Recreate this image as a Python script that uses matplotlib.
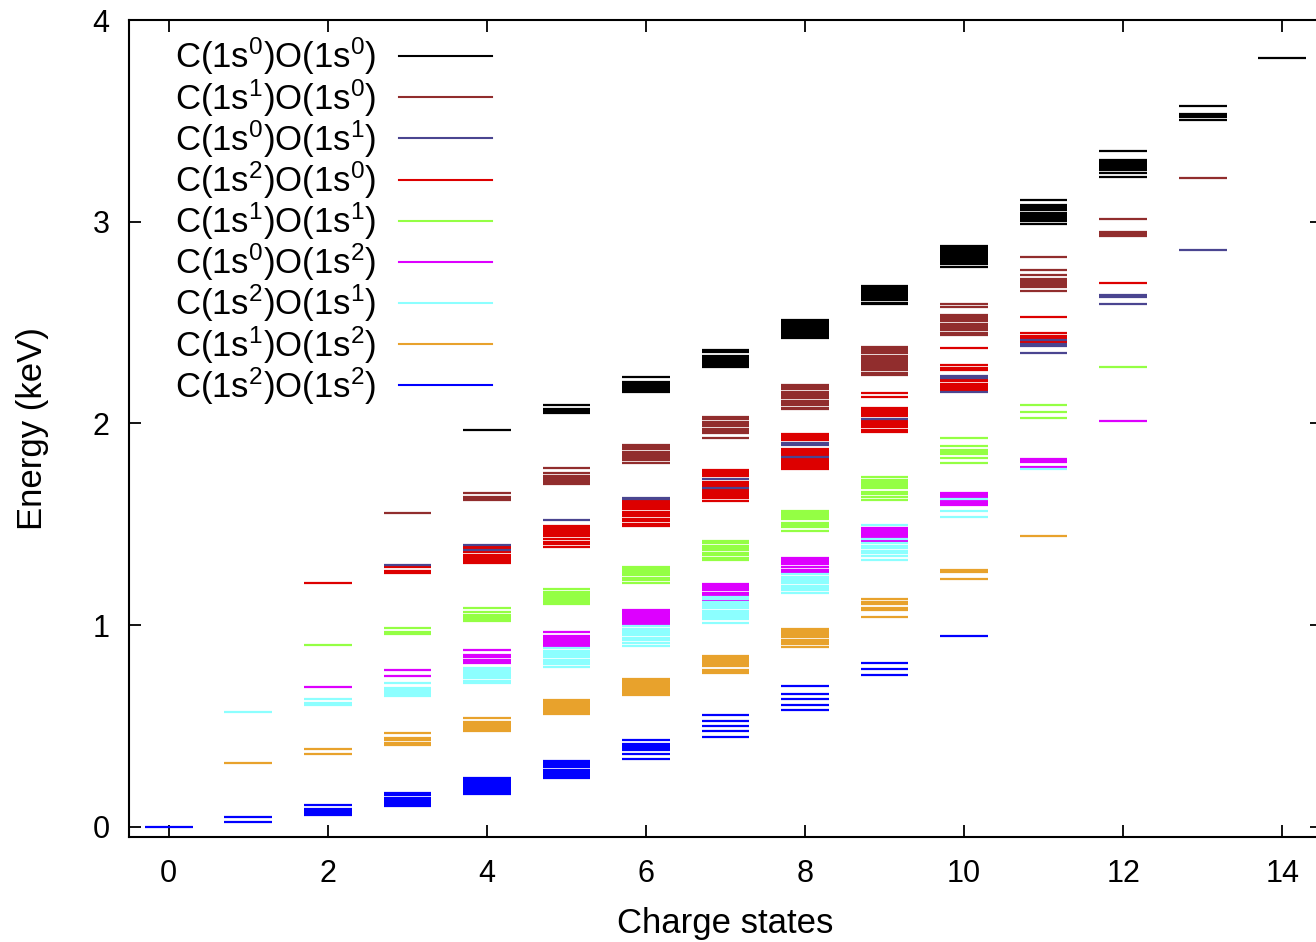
import matplotlib
matplotlib.use("Agg")
import matplotlib.pyplot as plt
from matplotlib.lines import Line2D

plt.rcParams['font.family'] = ['Liberation Sans', 'DejaVu Sans']
plt.rcParams['mathtext.fontset'] = 'custom'
plt.rcParams['mathtext.rm'] = 'Liberation Sans'
plt.rcParams['mathtext.it'] = 'Liberation Sans:italic'
plt.rcParams['mathtext.default'] = 'regular'

# ---- data: energy levels (keV) per charge state for each core-hole configuration ----
labels = [
    "C(1s$^0$)O(1s$^0$)", "C(1s$^1$)O(1s$^0$)", "C(1s$^0$)O(1s$^1$)",
    "C(1s$^2$)O(1s$^0$)", "C(1s$^1$)O(1s$^1$)", "C(1s$^0$)O(1s$^2$)",
    "C(1s$^2$)O(1s$^1$)", "C(1s$^1$)O(1s$^2$)", "C(1s$^2$)O(1s$^2$)",
]
colors = ['#000000', '#912d2d', '#4a4590', '#dd0000', '#94ff44',
          '#dd00ff', '#8cffff', '#e8a22c', '#0000ff']

levels_C0O0 = {
    4: [1.970],
    5: [2.093, 2.073, 2.062, 2.053],
    6: [2.232, 2.205, 2.195, 2.185, 2.175, 2.165, 2.157],
    7: [2.364, 2.352, 2.336, 2.326, 2.316, 2.310, 2.298, 2.288, 2.280],
    8: [2.512, 2.502, 2.492, 2.482, 2.472, 2.462, 2.455, 2.442, 2.432, 2.426],
    9: [2.683, 2.673, 2.663, 2.653, 2.643, 2.633, 2.623, 2.613, 2.598, 2.590],
    10: [2.882, 2.872, 2.862, 2.852, 2.842, 2.832, 2.822, 2.812, 2.802, 2.792, 2.778],
    11: [3.106, 3.085, 3.075, 3.065, 3.058, 3.045, 3.035, 3.025, 3.015, 3.005, 2.990],
    12: [3.353, 3.304, 3.294, 3.284, 3.274, 3.265, 3.255, 3.242, 3.220],
    13: [3.572, 3.535, 3.525, 3.518, 3.502],
    14: [3.810],
}
levels_C1O0 = {
    3: [1.558],
    4: [1.657, 1.636, 1.627, 1.620],
    5: [1.778, 1.753, 1.742, 1.728, 1.718, 1.708, 1.702],
    6: [1.892, 1.882, 1.872, 1.860, 1.850, 1.840, 1.828, 1.818, 1.806],
    7: [2.030, 2.020, 2.008, 1.998, 1.988, 1.975, 1.962, 1.952, 1.930],
    8: [2.190, 2.180, 2.170, 2.158, 2.146, 2.136, 2.126, 2.112, 2.102, 2.090, 2.078, 2.070],
    9: [2.378, 2.368, 2.358, 2.348, 2.334, 2.324, 2.314, 2.304, 2.294, 2.284, 2.274, 2.264, 2.252, 2.240],
    10: [2.591, 2.578, 2.540, 2.530, 2.518, 2.508, 2.495, 2.485, 2.475, 2.462, 2.450, 2.438],
    11: [2.827, 2.760, 2.738, 2.716, 2.706, 2.696, 2.686, 2.676, 2.656],
    12: [3.012, 2.951, 2.940, 2.928],
    13: [3.216],
}
levels_C0O1 = {
    3: [1.300],
    4: [1.399, 1.373],
    5: [1.520],
    6: [1.632, 1.624],
    7: [1.725, 1.680],
    8: [1.903, 1.893, 1.833],
    9: [2.023],
    10: [2.236, 2.226, 2.156],
    11: [2.415, 2.395, 2.385, 2.347],
    12: [2.636, 2.628, 2.592],
    13: [2.861],
}
levels_C2O0 = {
    2: [1.207],
    3: [1.287, 1.270, 1.258],
    4: [1.389, 1.379, 1.362, 1.350, 1.340, 1.328, 1.318, 1.308],
    5: [1.492, 1.482, 1.472, 1.460, 1.450, 1.440, 1.428, 1.414, 1.400, 1.388],
    6: [1.615, 1.605, 1.595, 1.585, 1.575, 1.563, 1.553, 1.540, 1.528, 1.515, 1.500, 1.490],
    7: [1.768, 1.758, 1.748, 1.738, 1.712, 1.702, 1.692, 1.670, 1.660, 1.650, 1.640, 1.628, 1.618],
    8: [1.947, 1.937, 1.927, 1.917, 1.875, 1.865, 1.855, 1.845, 1.822, 1.812, 1.802, 1.792, 1.782, 1.776],
    9: [2.150, 2.132, 2.076, 2.066, 2.056, 2.046, 2.036, 2.012, 2.002, 1.992, 1.982, 1.970, 1.960],
    10: [2.375, 2.288, 2.275, 2.264, 2.218, 2.208, 2.198, 2.188, 2.178, 2.168],
    11: [2.528, 2.446, 2.436, 2.426, 2.405],
    12: [2.697],
}
levels_C1O1 = {
    2: [0.904],
    3: [0.987, 0.965, 0.955],
    4: [1.086, 1.063, 1.052, 1.042, 1.032, 1.020],
    5: [1.180, 1.163, 1.153, 1.143, 1.133, 1.123, 1.113, 1.104],
    6: [1.290, 1.280, 1.270, 1.258, 1.248, 1.232, 1.222, 1.208],
    7: [1.415, 1.405, 1.395, 1.385, 1.372, 1.360, 1.350, 1.335, 1.322],
    8: [1.566, 1.556, 1.546, 1.534, 1.524, 1.508, 1.498, 1.488, 1.465],
    9: [1.736, 1.718, 1.708, 1.698, 1.688, 1.678, 1.660, 1.650, 1.635, 1.620],
    10: [1.927, 1.886, 1.869, 1.859, 1.849, 1.830, 1.803],
    11: [2.093, 2.057, 2.028],
    12: [2.280],
}
levels_C0O2 = {
    2: [0.694],
    3: [0.776, 0.750],
    4: [0.877, 0.851, 0.843, 0.828, 0.818, 0.812],
    5: [0.965, 0.945, 0.935, 0.925, 0.915, 0.905, 0.898],
    6: [1.077, 1.067, 1.057, 1.047, 1.037, 1.027, 1.017, 1.008],
    7: [1.202, 1.192, 1.182, 1.172, 1.162, 1.152, 1.125],
    8: [1.334, 1.324, 1.314, 1.305, 1.286, 1.272, 1.262],
    9: [1.480, 1.470, 1.460, 1.450, 1.440, 1.432, 1.415],
    10: [1.654, 1.644, 1.634, 1.614, 1.604, 1.595],
    11: [1.826, 1.816, 1.809, 1.783],
    12: [2.010],
}
levels_C2O1 = {
    1: [0.571],
    2: [0.632, 0.612, 0.605],
    3: [0.715, 0.690, 0.680, 0.670, 0.660, 0.650],
    4: [0.788, 0.778, 0.766, 0.756, 0.746, 0.736, 0.724, 0.714],
    5: [0.886, 0.870, 0.860, 0.850, 0.840, 0.828, 0.818, 0.808, 0.795],
    6: [0.994, 0.980, 0.970, 0.960, 0.950, 0.935, 0.925, 0.910, 0.895],
    7: [1.140, 1.130, 1.115, 1.105, 1.095, 1.085, 1.072, 1.062, 1.050, 1.040, 1.030, 1.010],
    8: [1.252, 1.240, 1.230, 1.218, 1.208, 1.196, 1.186, 1.174, 1.160],
    9: [1.495, 1.425, 1.405, 1.395, 1.385, 1.370, 1.360, 1.342, 1.325],
    10: [1.624, 1.568, 1.538],
    11: [1.775],
}
levels_C1O2 = {
    1: [0.319],
    2: [0.384, 0.360],
    3: [0.467, 0.442, 0.430, 0.418, 0.408],
    4: [0.538, 0.520, 0.510, 0.500, 0.490, 0.480, 0.473],
    5: [0.630, 0.620, 0.610, 0.598, 0.588, 0.578, 0.568, 0.558],
    6: [0.733, 0.723, 0.713, 0.703, 0.693, 0.683, 0.673, 0.663, 0.653],
    7: [0.849, 0.839, 0.829, 0.819, 0.809, 0.799, 0.780, 0.770, 0.762],
    8: [0.982, 0.972, 0.962, 0.950, 0.940, 0.928, 0.918, 0.906, 0.894],
    9: [1.128, 1.115, 1.105, 1.085, 1.075, 1.040],
    10: [1.273, 1.262, 1.229],
    11: [1.444],
}
levels_C2O2 = {
    0: [0.000],
    1: [0.048, 0.025],
    2: [0.110, 0.090, 0.080, 0.070, 0.060],
    3: [0.167, 0.157, 0.145, 0.135, 0.125, 0.115, 0.105],
    4: [0.241, 0.231, 0.221, 0.211, 0.201, 0.191, 0.181, 0.171, 0.163],
    5: [0.327, 0.317, 0.305, 0.295, 0.282, 0.270, 0.260, 0.250, 0.240],
    6: [0.430, 0.409, 0.399, 0.389, 0.381, 0.359, 0.338],
    7: [0.553, 0.527, 0.500, 0.473, 0.447],
    8: [0.698, 0.661, 0.632, 0.604, 0.578],
    9: [0.815, 0.781, 0.752],
    10: [0.946],
}

groups = [levels_C0O0, levels_C1O0, levels_C0O1, levels_C2O0, levels_C1O1,
          levels_C0O2, levels_C2O1, levels_C1O2, levels_C2O2]
zorders = [2, 2, 4, 3, 3, 3, 4, 3, 3]

xticks = list(range(0, 15, 2))
yticks = [0, 1, 2, 3, 4]

# ---- figure ----
W, H = 1316, 942
fig = plt.figure(figsize=(W / 100, H / 100), dpi=100)
ax = fig.add_axes([129 / W, (H - 837) / H, (1322 - 129) / W, (837 - 20) / H])

half = 0.3
for grp, col, z in zip(groups, colors, zorders):
    for q, lev in grp.items():
        ax.hlines(lev, q - half, q + half, colors=col, linewidth=1.6, zorder=z)

handles = [Line2D([0], [0], color=c, lw=1.5) for c in colors]
leg = ax.legend(handles, labels, loc='upper left',
                bbox_to_anchor=(46 / 1193, 1 - 16 / 817), frameon=False,
                markerfirst=False, fontsize=25, handlelength=2.68,
                handletextpad=0.66, labelspacing=-0.01, borderpad=0,
                borderaxespad=0)

ax.set_xlim(-0.5, 14.5)
ax.set_ylim(-0.05, 4.0)
ax.set_xticks(xticks)
ax.set_yticks(yticks)
ax.tick_params(direction='in', length=8.5, width=1.3, top=True, right=True,
               labelsize=22)
ax.tick_params(axis='x', pad=16)
ax.tick_params(axis='y', pad=14)
for s in ax.spines.values():
    s.set_linewidth(1.5)

ax.set_xlabel('Charge states', fontsize=25, labelpad=13)
ax.set_ylabel('Energy (keV)', fontsize=25, labelpad=31)

fig.savefig('out.png', dpi=100)
